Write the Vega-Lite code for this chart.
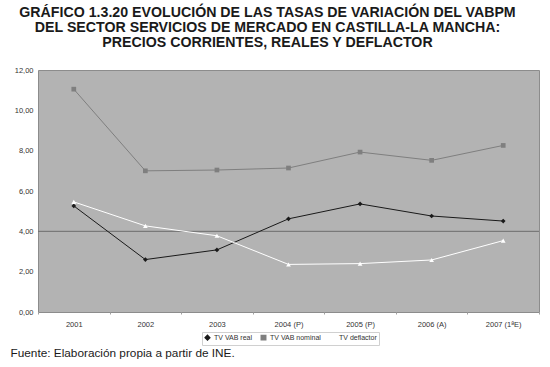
{
  "$schema": "https://vega.github.io/schema/vega-lite/v6.json",
  "width": 501,
  "height": 242,
  "autosize": {"type": "none"},
  "padding": {"left": 38, "top": 70, "right": 11, "bottom": 55},
  "background": "white",
  "title": {
    "text": ["GRÁFICO 1.3.20 EVOLUCIÓN DE LAS TASAS DE VARIACIÓN DEL VABPM", "DEL SECTOR SERVICIOS DE MERCADO EN CASTILLA-LA MANCHA:", "PRECIOS CORRIENTES, REALES  Y DEFLACTOR"],
    "font": "Liberation Sans",
    "fontWeight": "bold",
    "fontSize": 14.2,
    "lineHeight": 15,
    "color": "#1a1a1a",
    "anchor": "middle",
    "frame": "group",
    "dx": -21,
    "offset": 16
  },
  "config": {
    "view": {"fill": "#b3b3b3", "stroke": "#8c8c8c", "strokeWidth": 1},
    "font": "Liberation Sans"
  },
  "data": {
    "values": [
      {"year": "2001", "serie": "TV VAB real", "v": 5.26},
      {"year": "2002", "serie": "TV VAB real", "v": 2.60},
      {"year": "2003", "serie": "TV VAB real", "v": 3.08},
      {"year": "2004 (P)", "serie": "TV VAB real", "v": 4.62},
      {"year": "2005 (P)", "serie": "TV VAB real", "v": 5.36},
      {"year": "2006 (A)", "serie": "TV VAB real", "v": 4.76},
      {"year": "2007 (1ªE)", "serie": "TV VAB real", "v": 4.51},
      {"year": "2001", "serie": "TV VAB nominal", "v": 11.05},
      {"year": "2002", "serie": "TV VAB nominal", "v": 7.00},
      {"year": "2003", "serie": "TV VAB nominal", "v": 7.04},
      {"year": "2004 (P)", "serie": "TV VAB nominal", "v": 7.14},
      {"year": "2005 (P)", "serie": "TV VAB nominal", "v": 7.93},
      {"year": "2006 (A)", "serie": "TV VAB nominal", "v": 7.52},
      {"year": "2007 (1ªE)", "serie": "TV VAB nominal", "v": 8.26},
      {"year": "2001", "serie": "TV deflactor", "v": 5.46},
      {"year": "2002", "serie": "TV deflactor", "v": 4.27},
      {"year": "2003", "serie": "TV deflactor", "v": 3.78},
      {"year": "2004 (P)", "serie": "TV deflactor", "v": 2.36},
      {"year": "2005 (P)", "serie": "TV deflactor", "v": 2.40},
      {"year": "2006 (A)", "serie": "TV deflactor", "v": 2.58},
      {"year": "2007 (1ªE)", "serie": "TV deflactor", "v": 3.54}
    ]
  },
  "layer": [
    {
      "data": {"values": [{"ref": 4}]},
      "mark": {"type": "rule", "color": "#6e6e6e", "strokeWidth": 1},
      "encoding": {"y": {"field": "ref", "type": "quantitative"}}
    },
    {
      "mark": {"type": "line", "strokeWidth": 1},
      "encoding": {
        "x": {
          "field": "year", "type": "ordinal", "sort": null,
          "scale": {"type": "band", "paddingInner": 0, "paddingOuter": 0},
          "axis": {
            "labelAngle": 0, "labelFontSize": 7.5, "labelColor": "#333", "labelPadding": 6,
            "domain": false, "ticks": true, "tickBand": "extent", "tickSize": 2, "tickColor": "#a0a0a0",
            "title": "Fuente: Elaboración propia a partir de INE.",
            "titleFontSize": 11.8, "titleFontWeight": "normal", "titleColor": "#1a1a1a",
            "titleAnchor": "start", "titleAlign": "left", "titleBaseline": "alphabetic",
            "titleX": -28, "titleY": 44
          }
        },
        "y": {
          "field": "v", "type": "quantitative",
          "scale": {"domain": [0, 12]},
          "axis": {
            "values": [0, 2, 4, 6, 8, 10, 12],
            "labelExpr": "replace(format(datum.value, '.2f'), '.', ',')",
            "labelFontSize": 7.5, "labelColor": "#333", "labelPadding": 5,
            "domain": false, "ticks": false, "grid": false, "title": null
          }
        },
        "color": {
          "field": "serie", "type": "nominal",
          "scale": {"domain": ["TV VAB real", "TV VAB nominal", "TV deflactor"], "range": ["#1a1a1a", "#7f7f7f", "#ffffff"]},
          "legend": {
            "orient": "none", "legendX": 164, "legendY": 262, "direction": "horizontal",
            "title": null, "labelFontSize": 7, "labelColor": "#333", "symbolSize": 20,
            "strokeColor": "#d0d0d0", "padding": 2, "columnPadding": 6, "labelOffset": 3
          }
        },
        "detail": {"field": "serie"}
      }
    },
    {
      "mark": {"type": "point", "filled": true, "opacity": 1},
      "encoding": {
        "x": {"field": "year", "type": "ordinal", "sort": null},
        "y": {"field": "v", "type": "quantitative"},
        "color": {
          "field": "serie", "type": "nominal",
          "scale": {"domain": ["TV VAB real", "TV VAB nominal", "TV deflactor"], "range": ["#1a1a1a", "#7f7f7f", "#ffffff"]},
          "legend": {
            "orient": "none", "legendX": 164, "legendY": 262, "direction": "horizontal",
            "title": null, "labelFontSize": 7, "labelColor": "#333", "symbolSize": 20,
            "strokeColor": "#d0d0d0", "padding": 2, "columnPadding": 6, "labelOffset": 3
          }
        },
        "shape": {
          "field": "serie", "type": "nominal",
          "scale": {"domain": ["TV VAB real", "TV VAB nominal", "TV deflactor"], "range": ["diamond", "square", "triangle-up"]},
          "legend": {
            "orient": "none", "legendX": 164, "legendY": 262, "direction": "horizontal",
            "title": null, "labelFontSize": 7, "labelColor": "#333", "symbolSize": 20,
            "strokeColor": "#d0d0d0", "padding": 2, "columnPadding": 6, "labelOffset": 3
          }
        },
        "size": {"value": 22}
      }
    }
  ]
}
